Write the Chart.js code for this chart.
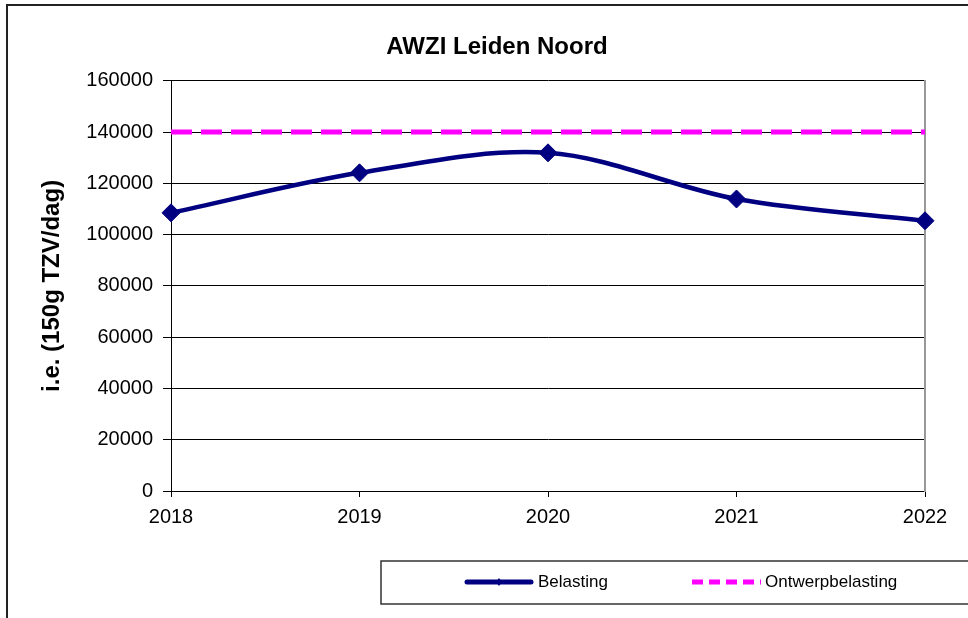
<!DOCTYPE html>
<html>
<head>
<meta charset="utf-8">
<script src="https://cdn.jsdelivr.net/npm/chart.js@4/dist/chart.umd.min.js"></script>
<style>
  html, body { margin: 0; padding: 0; background: #fff; }
  #wrap { width: 968px; height: 618px; }
</style>
</head>
<body>
<div id="wrap"><canvas id="awzi_chart" width="968" height="618"></canvas></div>
<script>
var years = ["2018", "2019", "2020", "2021", "2022"];
var belasting = [108500, 124100, 131900, 113900, 105400];
var ontwerpbelasting = [140000, 140000, 140000, 140000, 140000];
var yMin = 0, yMax = 160000, yStep = 20000;

var fontFamily = "'Liberation Sans', Arial, sans-serif";

// outer frame + boxed legend under the plot
var framePlugin = {
    id: 'frame',
    afterDraw: function (chart) {
        var ctx = chart.ctx;
        ctx.save();
        ctx.strokeStyle = '#222';
        ctx.lineWidth = 2;
        ctx.beginPath();
        ctx.moveTo(7, 618);
        ctx.lineTo(7, 5);
        ctx.lineTo(968, 5);
        ctx.stroke();

        // legend box
        ctx.lineWidth = 1.5;
        ctx.strokeStyle = '#333';
        ctx.strokeRect(381, 561, 600, 43);

        var ds = chart.data.datasets;
        var ly = 582;
        ctx.font = '17px ' + fontFamily;
        ctx.fillStyle = '#000';
        ctx.textBaseline = 'middle';

        // Belasting
        ctx.strokeStyle = ds[0].borderColor;
        ctx.lineWidth = 5;
        ctx.lineCap = 'round';
        ctx.beginPath();
        ctx.moveTo(467, ly);
        ctx.lineTo(531, ly);
        ctx.stroke();
        ctx.fillStyle = ds[0].borderColor;
        ctx.beginPath();
        ctx.moveTo(499, ly - 4);
        ctx.lineTo(502, ly);
        ctx.lineTo(499, ly + 4);
        ctx.lineTo(496, ly);
        ctx.closePath();
        ctx.fill();
        ctx.fillStyle = '#000';
        ctx.fillText(ds[0].label, 538, ly);

        // Ontwerpbelasting
        ctx.strokeStyle = ds[1].borderColor;
        ctx.lineCap = 'butt';
        ctx.setLineDash([11, 6]);
        ctx.beginPath();
        ctx.moveTo(692, ly);
        ctx.lineTo(761, ly);
        ctx.stroke();
        ctx.setLineDash([]);
        ctx.fillText(ds[1].label, 765, ly);
        ctx.restore();
    }
};

var chartdata = {
    labels: years,
    datasets: [
        {
            label: "Belasting",
            data: belasting,
            borderColor: '#000080',
            backgroundColor: '#000080',
            borderWidth: 4.5,
            tension: 0.33,
            pointStyle: 'rectRot',
            pointRadius: 9,
            pointBorderWidth: 1,
            fill: false,
            order: 2
        },
        {
            label: "Ontwerpbelasting",
            data: ontwerpbelasting,
            borderColor: '#FF00FF',
            backgroundColor: '#FF00FF',
            borderWidth: 5,
            borderDash: [21, 9],
            pointRadius: 0,
            fill: false,
            order: 1
        }
    ]
};

var ctx = document.getElementById('awzi_chart');

var lineGraph = new Chart(ctx, {
    type: 'line',
    data: chartdata,
    plugins: [framePlugin],
    options: {
        responsive: false,
        animation: false,
        layout: { padding: { left: 26, right: 0, top: 0, bottom: 0 } },
        plugins: {
            legend: { display: false },
            tooltip: { enabled: false },
            title: {
                display: true,
                text: 'AWZI Leiden Noord',
                color: '#000',
                font: { family: fontFamily, size: 24, weight: 'bold' },
                padding: { top: 33, bottom: 19 }
            }
        },
        scales: {
            x: {
                offset: false,
                grid: { drawOnChartArea: false, drawTicks: true, tickLength: 6, color: '#000' },
                border: { display: true, color: '#000', width: 1 },
                ticks: { color: '#000', padding: 8, maxRotation: 0, font: { family: fontFamily, size: 20 } },
                afterFit: function (s) { s.height = 127; }
            },
            y: {
                min: yMin,
                max: yMax,
                grid: { color: '#000', lineWidth: 1, tickLength: 8 },
                border: { display: true, color: '#000', width: 1 },
                ticks: {
                    stepSize: yStep,
                    color: '#000',
                    padding: 10,
                    font: { family: fontFamily, size: 20 },
                    callback: function (v) { return String(v); }
                },
                title: {
                    display: true,
                    text: 'i.e. (150g TZV/dag)',
                    color: '#000',
                    font: { family: fontFamily, size: 24, weight: 'bold' },
                    padding: { top: 12, bottom: 0 }
                },
                afterFit: function (s) { s.width = 145; }
            },
            y2: {
                type: 'linear',
                position: 'right',
                min: yMin,
                max: yMax,
                grid: { display: false },
                ticks: { display: false },
                border: { display: true, color: '#999', width: 2 },
                afterFit: function (s) { s.width = 43; }
            }
        }
    }
});
</script>
</body>
</html>
